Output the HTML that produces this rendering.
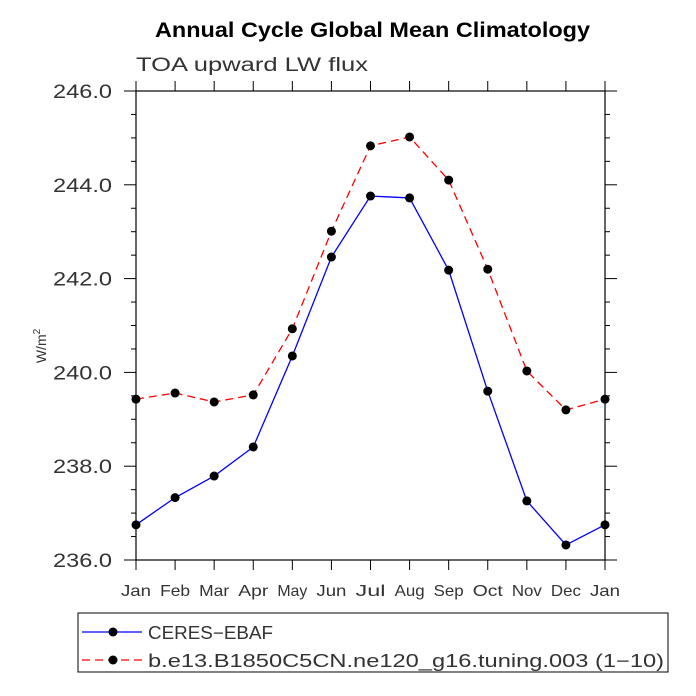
<!DOCTYPE html>
<html><head><meta charset="utf-8"><style>body{margin:0;background:#fff}svg{display:block}</style></head>
<body>
<svg id="c" width="696" height="696" xmlns="http://www.w3.org/2000/svg" font-family="Liberation Sans, DejaVu Sans, sans-serif">
<text x="155" y="37" font-size="21" font-weight="bold" textLength="435" lengthAdjust="spacingAndGlyphs">Annual Cycle Global Mean Climatology</text>
<text x="136" y="71" font-size="19" fill="#333" textLength="232" lengthAdjust="spacingAndGlyphs">TOA upward LW flux</text>
<text transform="translate(46,346) rotate(-90)" text-anchor="middle" font-size="14" fill="#333">W/m<tspan dy="-6" font-size="10">2</tspan></text>
<g id="axes"></g>
<g id="series"></g>
<rect x="78" y="613" width="590" height="59" fill="none" stroke="#000" stroke-width="1"/>
<g>
<line x1="82" y1="632" x2="142" y2="632" stroke="#00f" stroke-width="1.3"/>
<circle cx="113" cy="632" r="4.5"/>
<text x="148" y="639" font-size="18" fill="#333" textLength="125" lengthAdjust="spacingAndGlyphs">CERES−EBAF</text></g>
<g>
<line x1="82" y1="660" x2="142" y2="660" stroke="#f00" stroke-width="1.3" stroke-dasharray="8,5"/>
<circle cx="113" cy="660" r="4.5"/>
<text x="148" y="667" font-size="18" fill="#333" textLength="516" lengthAdjust="spacingAndGlyphs">b.e13.B1850C5CN.ne120_g16.tuning.003 (1−10)</text></g>
</svg>
<script>
const months=["Jan","Feb","Mar","Apr","May","Jun","Jul","Aug","Sep","Oct","Nov","Dec","Jan"];
const ceres=[236.75,237.33,237.79,238.41,240.35,242.46,243.76,243.72,242.18,239.60,237.26,236.32,236.75];
const model=[239.43,239.56,239.37,239.52,240.93,243.01,244.83,245.02,244.10,242.20,240.03,239.20,239.43];
const yTicks=[236,238,240,242,244,246];
const L=136,R=605,T=91,B=560,ymin=236,ymax=246;
const xs=i=>L+(R-L)*i/(months.length-1);
const ys=v=>B-(B-T)*(v-ymin)/(ymax-ymin);
const NS="http://www.w3.org/2000/svg";
const ax=document.getElementById('axes'),sg=document.getElementById('series');
function mk(p,t,a){const e=document.createElementNS(NS,t);for(const k in a)e.setAttribute(k,a[k]);p.appendChild(e);return e;}
const fr=mk(ax,'rect',{x:L,y:T,width:R-L,height:B-T,fill:'none',stroke:'#000','stroke-width':1.2});


for(let v=ymin;v<=ymax+1e-9;v+=0.5){const y=ys(v);const major=Math.abs(v-Math.round(v/2)*2)<1e-9;const len=major?12:5;
 mk(ax,'line',{x1:L-len,y1:y,x2:L,y2:y,stroke:'#000'});mk(ax,'line',{x1:R,y1:y,x2:R+len,y2:y,stroke:'#000'});}
yTicks.forEach(v=>{const t=mk(ax,'text',{x:53,y:ys(v)+7,'font-size':19,fill:'#333',textLength:59,lengthAdjust:'spacingAndGlyphs'});t.textContent=v.toFixed(1);

});
months.forEach((m,i)=>{const x=xs(i);mk(ax,'line',{x1:x,y1:B,x2:x,y2:B+10,stroke:'#000'});mk(ax,'line',{x1:x,y1:T-10,x2:x,y2:T,stroke:'#000'});
const t=mk(ax,'text',{x:x-15,y:596,'font-size':16,fill:'#333',textLength:30,lengthAdjust:'spacingAndGlyphs'});t.textContent=m;

});
function series(d,col,dash,name){const g=mk(sg,'g',{});


mk(g,'polyline',{points:d.map((v,i)=>xs(i)+','+ys(v)).join(' '),fill:'none',stroke:col,'stroke-width':1.3,'stroke-dasharray':dash});
d.forEach((v,i)=>mk(g,'circle',{cx:xs(i),cy:ys(v),r:4.5,fill:'#000'}));}
series(model,'#f00','8,5','model-series');
series(ceres,'#00f','none','ceres-series');
</script>
</body></html>
